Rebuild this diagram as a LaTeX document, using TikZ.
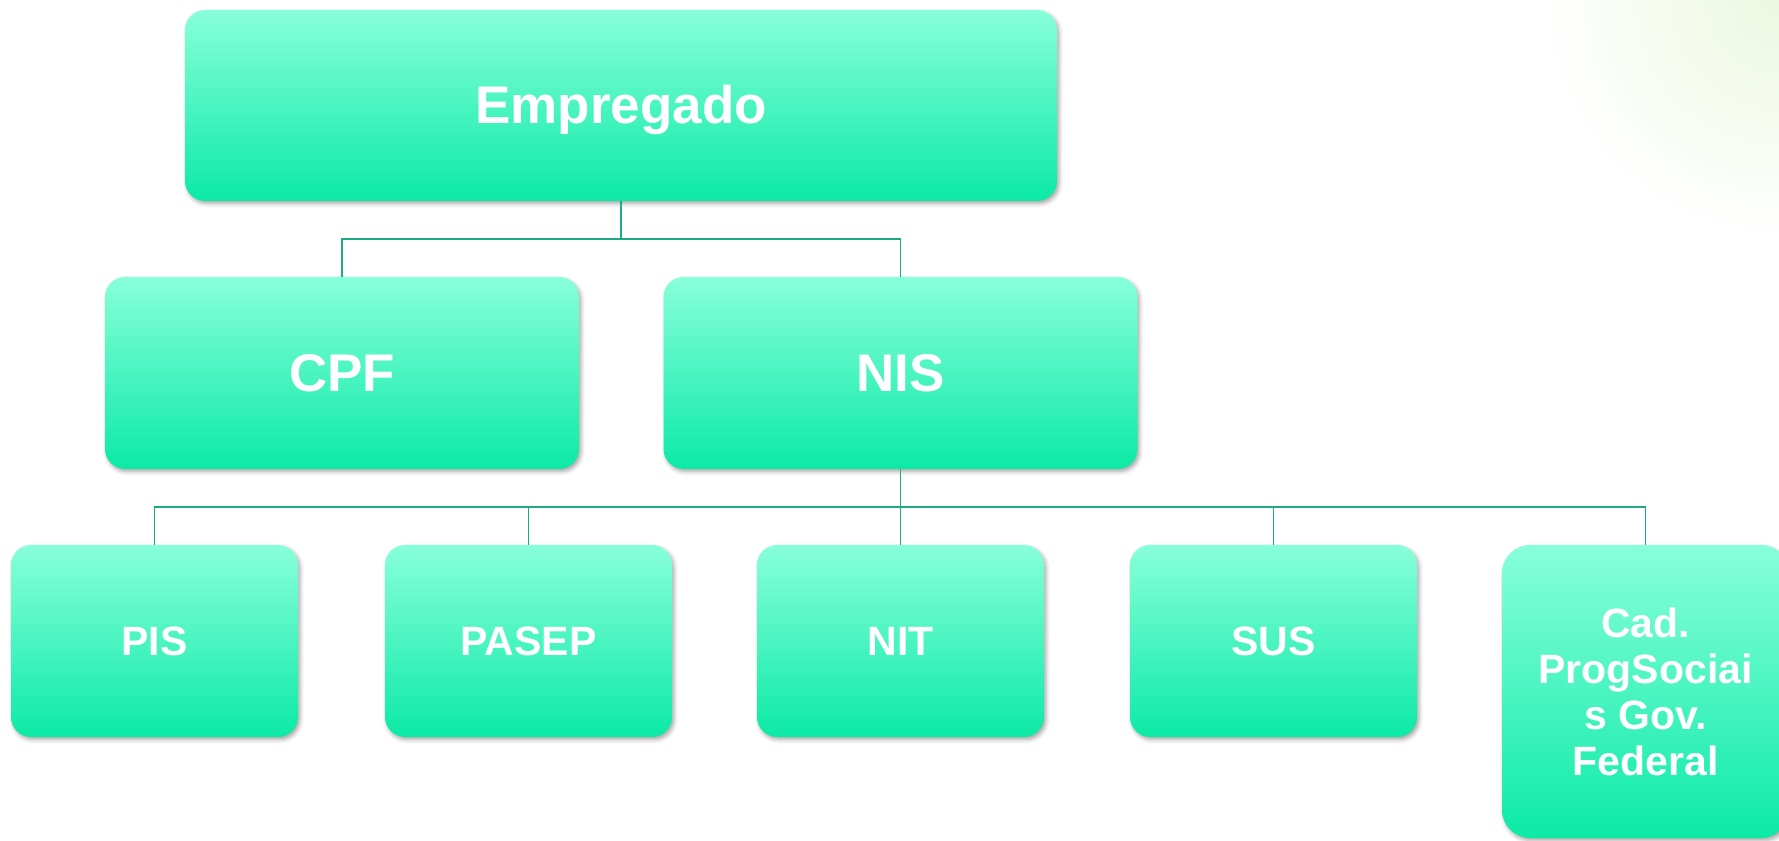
\documentclass[tikz,border=0pt]{standalone}
\usepackage{fontspec}
\setmainfont{Liberation Sans}
\usetikzlibrary{shadows.blur}
\definecolor{boxtop}{RGB}{136,255,218}
\definecolor{boxbot}{RGB}{12,234,166}
\definecolor{conn}{RGB}{30,170,130}
\definecolor{glow}{RGB}{236,248,224}
\pgfdeclareradialshading{cornerglow}{\pgfpoint{0bp}{0bp}}{color(0bp)=(glow); color(12bp)=(white); color(50bp)=(white)}
\begin{document}
\begin{tikzpicture}[x=0.75pt,y=-0.75pt,
  box/.style={rounded corners=15pt, top color=boxtop, bottom color=boxbot,
    text=white, inner sep=0pt, align=center,
    blur shadow={shadow xshift=1.5pt, shadow yshift=-2pt, shadow blur radius=3pt, shadow opacity=35}},
  bigbox/.style={box, minimum width=355.5pt, minimum height=144pt,
    font=\fontsize{39.75pt}{46pt}\selectfont\bfseries},
  smallbox/.style={box, minimum width=215.25pt, minimum height=144pt,
    font=\fontsize{30.75pt}{34.5pt}\selectfont\bfseries},
  link/.style={draw=conn, line width=1.2pt}]
\useasboundingbox (0,0) rectangle (1779,841);
\shade[shading=cornerglow] (1279,-500) rectangle (2279,500);

\node[bigbox, minimum width=654pt, minimum height=143.25pt] (E) at (621,105.5) {};
\node[font=\fontsize{39.75pt}{46pt}\selectfont\bfseries, text=white, inner sep=0pt] (Et) at (621,110) {Empregado};
\node[bigbox] (CPF) at (342,373) {CPF};
\node[bigbox] (NIS) at (900.5,373) {NIS};

\node[smallbox] (PIS) at (154.5,641) {PIS};
\node[smallbox] (PASEP) at (528.5,641) {PASEP};
\node[smallbox] (NIT) at (900.5,641) {NIT};
\node[smallbox] (SUS) at (1273.5,641) {SUS};
\node[smallbox, rounded corners=21pt, minimum height=219.75pt] (CAD) at (1645.5,691.5) {Cad.\\ProgSociai\\s Gov.\\Federal};

\coordinate (j1) at (621,239);
\coordinate (j2) at (900.5,507);
\draw[link] (E.south) -- (j1) -| (CPF.north);
\draw[link] (j1) -| (NIS.north);
\draw[link] (NIS.south) -- (j2);
\draw[link] (j2) -| (PIS.north);
\draw[link] (j2) -| (PASEP.north);
\draw[link] (j2) -- (NIT.north);
\draw[link] (j2) -| (SUS.north);
\draw[link] (j2) -| (CAD.north);
\end{tikzpicture}
\end{document}
